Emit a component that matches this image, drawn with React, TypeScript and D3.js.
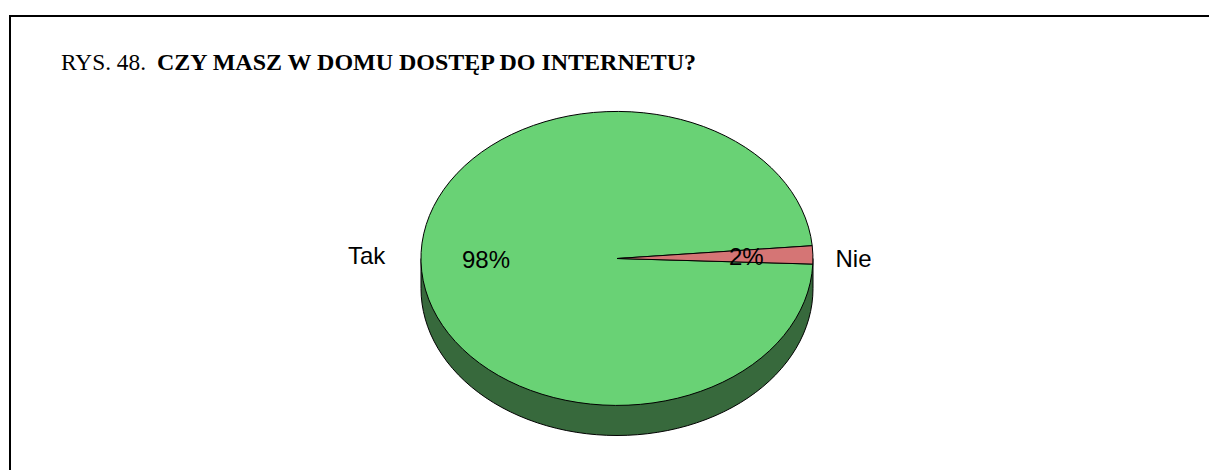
import React from "react";
import * as d3 from "d3";

const categories = ["Tak", "Nie"];
const values = [98, 2];
const percentLabels = ["98%", "2%"];
const colors = ["#69d275", "#d57575"];
const wallColor = "#37693c";
const titlePrefix = "RYS. 48.";
const titleBold = "CZY MASZ W DOMU DOSTĘP DO INTERNETU?";

const W = 1209, H = 471;
const cx = 617, cy = 258.5, rx = 196, ry = 147, depth = 30;
const SANS = "'Liberation Sans', Arial, sans-serif";
const SERIF = "'Liberation Serif', 'Times New Roman', serif";

// Nie wedge straddles the 3 o'clock direction; d3 angles run clockwise from 12 o'clock
const nieStart = Math.PI / 2 - (5 * Math.PI) / 180;
const takStart = nieStart + (values[1] / 100) * 2 * Math.PI;
const pie = d3.pie<number>().sort(null).startAngle(takStart).endAngle(takStart + 2 * Math.PI);
const arcs = pie(values);
const unitArc = d3.arc<any>().innerRadius(0).outerRadius(1);

const wallPath = (() => {
  const top = d3.range(0, 181, 3).map((deg) => {
    const t = (deg * Math.PI) / 180;
    return [cx + rx * Math.cos(t), cy + depth + ry * Math.sin(t)] as [number, number];
  });
  return `M${cx + rx},${cy}L` + top.map((p) => p.join(",")).join("L") + `L${cx - rx},${cy}Z`;
})();

export default function App() {
  return (
    <svg width={W} height={H} style={{ position: "fixed", left: 0, top: 0, background: "#fff" }}>
      <path d={`M10,${H - 1}V16H${W}`} fill="none" stroke="#000" strokeWidth={2} />
      <g fontFamily={SERIF} fontSize={24} fill="#000">
        <text x={61} y={70} textLength={85} lengthAdjust="spacingAndGlyphs">{titlePrefix}</text>
        <text x={157} y={70} textLength={539} lengthAdjust="spacingAndGlyphs" fontWeight="bold">{titleBold}</text>
      </g>
      <path d={wallPath} fill={wallColor} stroke="#000" strokeWidth={1} />
      <g transform={`translate(${cx},${cy}) scale(${rx},${ry})`}>
        <path d={unitArc(arcs[0]) as string} fill={colors[0]} stroke="#000" strokeWidth={1} vectorEffect="non-scaling-stroke" />
        <path d={unitArc(arcs[1]) as string} fill={colors[1]} stroke="#000" strokeWidth={1} vectorEffect="non-scaling-stroke" />
      </g>
      <g fontFamily={SANS} fontSize={24} fill="#000">
        <text x={348} y={264}>{categories[0]}</text>
        <text x={835.5} y={266.5}>{categories[1]}</text>
        <text x={462} y={268}>{percentLabels[0]}</text>
        <text x={729} y={265}>{percentLabels[1]}</text>
      </g>
    </svg>
  );
}
